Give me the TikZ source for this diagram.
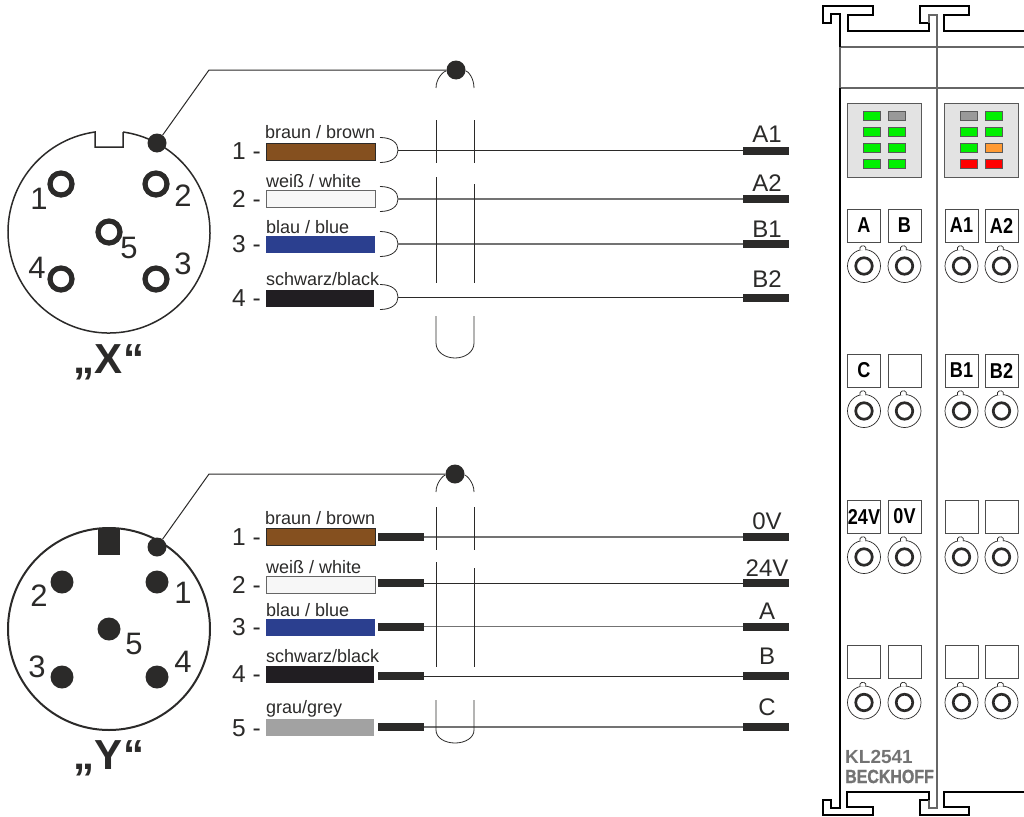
\documentclass[tikz,border=0pt]{standalone}
\usepackage{fontspec}
\setmainfont{Liberation Sans}
\newfontfamily\termfont[FakeStretch=0.84]{Liberation Sans}
\newfontfamily\brandfont[FakeStretch=0.84,FakeBold=1.2]{Liberation Sans}
\usepackage{tikz}
\usetikzlibrary{positioning}
\definecolor{brownWire}{HTML}{85501F}
\definecolor{blueWire}{HTML}{2B3F8F}
\definecolor{blackWire}{HTML}{211E22}
\definecolor{greyWire}{HTML}{A2A2A2}
\definecolor{dark}{HTML}{2B2A29}
\definecolor{ledGreen}{HTML}{00F000}
\definecolor{ledGrey}{HTML}{999999}
\definecolor{ledOrange}{HTML}{FF9A33}
\definecolor{ledRed}{HTML}{FF0000}
\tikzstyle{scheme}=[x=1pt, y=-1pt, line join=miter]
\tikzstyle{swatch}=[rectangle, inner sep=0pt, minimum width=109pt, minimum height=17pt]
\tikzstyle{wname}=[inner sep=0pt, anchor=base west, text=dark, font=\fontsize{18}{18}\selectfont]
\tikzstyle{num}=[inner sep=0pt, anchor=base west, text=dark, font=\fontsize{24.5}{24}\selectfont]
\tikzstyle{pinnum}=[inner sep=0pt, text=dark, font=\fontsize{31}{31}\selectfont]
\tikzstyle{plug}=[inner sep=0pt, text=dark, font=\fontsize{42}{42}\selectfont\bfseries]
\tikzstyle{sig}=[inner sep=0pt, anchor=base, text=dark, font=\fontsize{24}{24}\selectfont]
\tikzstyle{bar}=[rectangle, inner sep=0pt, fill=dark, minimum width=46pt, minimum height=8pt]
\tikzstyle{dot}=[circle, inner sep=0pt, fill=dark, minimum size=19pt]
\tikzstyle{ring}=[circle, inner sep=0pt, draw=dark, line width=5.2pt, minimum size=22pt]
\tikzstyle{pin}=[circle, inner sep=0pt, fill=dark, minimum size=23pt]
\tikzstyle{lead}=[draw=dark, line width=1pt]
\tikzstyle{wire}=[draw=dark, line width=0.8pt]
\tikzstyle{greywire}=[draw=black!55, line width=1.2pt]
\tikzstyle{shield}=[draw=dark, line width=0.8pt]
\tikzstyle{rail}=[draw=black, line width=2pt]
\tikzstyle{inner}=[draw=black!60, line width=1.2pt]
\tikzstyle{panel}=[rectangle, inner sep=0pt, draw=black!65, line width=1pt, fill=black!11, minimum width=74pt, minimum height=74pt]
\tikzstyle{led}=[rectangle, inner sep=0pt, draw=black!65, line width=0.8pt, minimum width=17pt, minimum height=9pt]
\tikzstyle{termbox}=[rectangle, inner sep=0pt, draw=black!70, line width=0.8pt, fill=white, minimum width=33pt, minimum height=33pt, font=\fontsize{21.5}{21}\termfont\bfseries]
\tikzstyle{socket}=[circle, inner sep=0pt, draw=dark, line width=0.7pt, fill=white, minimum size=33pt]
\tikzstyle{socketring}=[circle, inner sep=0pt, draw=dark, line width=2.7pt, minimum size=16.5pt]
\newcommand{\sigX}{767}
\newcommand{\colA}{864}
\newcommand{\colB}{904.5}
\newcommand{\colC}{961.5}
\newcommand{\colD}{1001.5}
\newcommand{\wireLoop}[2]{\draw[shield] (380,#2-12.5) .. controls (392,#2-12.5) and (398,#2-7) .. (#1) .. controls (398,#2+7) and (392,#2+12.5) .. (380,#2+12.5);}
\newcommand{\terminal}[4]{
	\node[termbox] (#1) at (#2,#3) {#4};
	\node[socket] (#1s) at ([yshift=-40.5pt]#1.center) {};
	\draw[shield, line width=0.7pt, fill=white] ([xshift=-4pt,yshift=15.8pt]#1s.center) arc[start angle=205, end angle=-25, radius=3.2pt];
	\node[socketring] (#1r) at (#1s.center) {};
}
\begin{document}
\begin{tikzpicture}[scheme]
	\useasboundingbox (0,0) rectangle (1024,816);
	
	%The plug X
	\draw[draw=dark, line width=1.5pt] (123,132) -- (123,147) -- (95,147) -- (95,132) arc[start angle=97.97, delta angle=344.06, radius=101pt];
	\node[dot] (dotX) at (157,143) {};
	\node[dot] (capX) at (456,70) {};
	\coordinate (bendX) at (209,70);
	\draw[lead] (dotX) -- (bendX) -- (capX);
	\node[ring] (x1) at (61,184) {};
	\node[ring] (x2) at (156,184) {};
	\node[ring] (x5) at (109,232) {};
	\node[ring] (x4) at (61,279) {};
	\node[ring] (x3) at (156,279) {};
	\node[pinnum] (nx1) at (39,199) {1};
	\node[pinnum] (nx2) at (183,196) {2};
	\node[pinnum] (nx5) at (129,248) {5};
	\node[pinnum] (nx4) at (37,268) {4};
	\node[pinnum] (nx3) at (183,264) {3};
	\node[plug] (nameX) at (109,362) {„X“};
	
	%The wires of X
	\node[num] (n1) at (232,159) {1 -};
	\node[num] (n2) at (232,207) {2 -};
	\node[num] (n3) at (232,252) {3 -};
	\node[num] (n4) at (232,306) {4 -};
	\node[wname] (w1) at (265,138) {braun / brown};
	\node[wname] (w2) at (266,187) {weiß / white};
	\node[wname] (w3) at (266,233) {blau / blue};
	\node[wname] (w4) at (266,285) {schwarz/black};
	\node[swatch, draw=dark, line width=0.6pt, fill=brownWire] (s1) at (320.5,151.5) {};
	\node[swatch, draw=black!60, line width=1pt, fill=black!3] (s2) at (320.5,198.5) {};
	\node[swatch, fill=blueWire] (s3) at (320.5,244.5) {};
	\node[swatch, fill=blackWire, minimum width=108pt] (s4) at (320,298.5) {};
	\node[bar] (a1) at (766,151) {};
	\node[bar] (a2) at (766,199) {};
	\node[bar] (b1) at (766,244) {};
	\node[bar] (b2) at (766,298) {};
	\coordinate (l1) at (398,150);
	\coordinate (l2) at (398,199);
	\coordinate (l3) at (398,244);
	\coordinate (l4) at (398,297);
	\wireLoop{l1}{150}
	\wireLoop{l2}{199}
	\wireLoop{l3}{244}
	\wireLoop{l4}{297}
	\draw[wire] (l1) -- (l1-|a1.west);
	\draw[greywire] (l2) -- (a2);
	\draw[greywire] (l3) -- (b1);
	\draw[wire] (l4) -- (l4-|b2.west);
	\node[sig] (la1) at (\sigX,142) {A1};
	\node[sig] (la2) at (\sigX,191) {A2};
	\node[sig] (lb1) at (\sigX,237) {B1};
	\node[sig] (lb2) at (\sigX,287) {B2};
	
	%The shield of X
	\draw[shield] (436,88) .. controls (436,78) and (444,71) .. (capX);
	\draw[shield] (474,88) .. controls (474,78) and (468,71) .. (capX);
	\draw[shield] (436,120) -- (436,163);
	\draw[shield] (474,120) -- (474,163);
	\draw[shield] (436,177) -- (436,283);
	\draw[shield] (474,184) -- (474,283);
	\draw[shield] (436,316) -- (436,343) .. controls (436,352) and (445,358) .. (455,358) .. controls (465,358) and (474,352) .. (474,343) -- (474,316);
	
	%The plug Y
	\node[circle, inner sep=0pt, draw=dark, line width=2pt, minimum size=202pt] (bodyY) at (109,629) {};
	\node[rectangle, inner sep=0pt, fill=dark, minimum width=22pt, minimum height=27pt] (keyY) at (109,541.5) {};
	\node[dot] (dotY) at (157,547) {};
	\node[dot] (capY) at (455,474) {};
	\coordinate (bendY) at (209,474);
	\draw[lead] (dotY) -- (bendY) -- (capY);
	\node[pin] (y2) at (62,582) {};
	\node[pin] (y1) at (157,582) {};
	\node[pin] (y5) at (109,629) {};
	\node[pin] (y3) at (62,677) {};
	\node[pin] (y4) at (157,677) {};
	\node[pinnum] (ny2) at (39,596) {2};
	\node[pinnum] (ny1) at (183,593) {1};
	\node[pinnum] (ny5) at (134,644) {5};
	\node[pinnum] (ny3) at (37,667) {3};
	\node[pinnum] (ny4) at (183,662) {4};
	\node[plug] (nameY) at (109,758) {„Y“};
	
	%The wires of Y
	\node[num] (m1) at (232,545) {1 -};
	\node[num] (m2) at (232,593) {2 -};
	\node[num] (m3) at (232,635) {3 -};
	\node[num] (m4) at (232,682) {4 -};
	\node[num] (m5) at (232,736) {5 -};
	\node[wname] (v1) at (265,524) {braun / brown};
	\node[wname] (v2) at (266,573) {weiß / white};
	\node[wname] (v3) at (266,616) {blau / blue};
	\node[wname] (v4) at (266,662) {schwarz/black};
	\node[wname] (v5) at (266,713) {grau/grey};
	\node[swatch, draw=dark, line width=0.6pt, fill=brownWire] (t1) at (320.5,536.5) {};
	\node[swatch, draw=black!60, line width=1pt, fill=black!3] (t2) at (320.5,584.5) {};
	\node[swatch, fill=blueWire] (t3) at (320.5,627.5) {};
	\node[swatch, fill=blackWire, minimum width=108pt] (t4) at (320,674.5) {};
	\node[swatch, fill=greyWire, minimum width=108pt] (t5) at (320,727.5) {};
	\node[bar] (e1) at (401,537) {};
	\node[bar] (e2) at (401,583) {};
	\node[bar] (e3) at (401,626.5) {};
	\node[bar] (e4) at (401,676) {};
	\node[bar] (e5) at (401,727) {};
	\node[bar] (f1) at (766,537) {};
	\node[bar] (f2) at (766,583) {};
	\node[bar] (f3) at (766,626.5) {};
	\node[bar] (f4) at (766,676) {};
	\node[bar] (f5) at (766,727) {};
	\draw[greywire] (e1) -- (f1);
	\draw[wire] (e2) -- (f2);
	\draw[greywire] (e3) -- (f3);
	\draw[wire] (e4) -- (f4);
	\draw[greywire] (e5) -- (f5);
	\node[sig] (l0v) at (\sigX,529) {0V};
	\node[sig] (l24v) at (\sigX,576) {24V};
	\node[sig] (lA) at (\sigX,619) {A};
	\node[sig] (lB) at (\sigX,664) {B};
	\node[sig] (lC) at (\sigX,715) {C};
	
	%The shield of Y
	\draw[shield] (436,492) .. controls (436,482) and (444,475) .. (capY);
	\draw[shield] (474,492) .. controls (474,482) and (466,475) .. (capY);
	\draw[shield] (436,507) -- (436,550);
	\draw[shield] (474,507) -- (474,550);
	\draw[shield] (436,562) -- (436,667);
	\draw[shield] (474,568) -- (474,667);
	\draw[shield] (436,700) -- (436,730) .. controls (436,738) and (445,743) .. (455,743) .. controls (465,743) and (474,738) .. (474,730) -- (474,700);
	
	%The terminal module
	\draw[inner] (840,47) -- (1024,47);
	\draw[inner] (840,88) -- (1024,88);
	\draw[inner] (840,47) -- (840,88);
	\draw[rail] (840,47) -- (840,14) -- (831,14) -- (831,23) -- (823,23) -- (823,6) -- (873,6) -- (873,15) -- (848,15) -- (848,31) -- (929,31) -- (929,23) -- (920,23) -- (920,6) -- (969,6) -- (969,15) -- (944,15) -- (944,31) -- (1024,31);
	\draw[rail] (840,88) -- (840,808) -- (831,808) -- (831,800) -- (823,800) -- (823,815) -- (873,815) -- (873,807) -- (847,807) -- (847,792) -- (929,792) -- (929,800) -- (920,800) -- (920,815) -- (969,815) -- (969,807) -- (944,807) -- (944,792) -- (1024,792);
	\draw[inner] (929,23) -- (929,15) -- (937,15) -- (937,808) -- (929,808) -- (929,800);
	
	%The led panels
	\node[panel] (panelL) at (884,140) {};
	\node[panel] (panelR) at (981.5,140) {};
	\node[led, fill=ledGreen] (la) at (872,116) {};
	\node[led, fill=ledGrey] (lb) at (897,116) {};
	\node[led, fill=ledGreen] (lc) at (872,132) {};
	\node[led, fill=ledGreen] (ld) at (897,132) {};
	\node[led, fill=ledGreen] (le) at (872,148) {};
	\node[led, fill=ledGreen] (lf) at (897,148) {};
	\node[led, fill=ledGreen] (lg) at (872,164) {};
	\node[led, fill=ledGreen] (lh) at (897,164) {};
	\node[led, fill=ledGrey] (ra) at (969,116) {};
	\node[led, fill=ledGreen] (rb) at (994,116) {};
	\node[led, fill=ledGreen] (rc) at (969,132) {};
	\node[led, fill=ledGreen] (rd) at (994,132) {};
	\node[led, fill=ledGreen] (re) at (969,148) {};
	\node[led, fill=ledOrange] (rf) at (994,148) {};
	\node[led, fill=ledRed] (rg) at (969,164) {};
	\node[led, fill=ledRed] (rh) at (994,164) {};
	
	%The terminals, row by row
	\terminal{ta}{\colA}{225.5}{A}
	\terminal{tb}{\colB}{225.5}{B}
	\terminal{tc}{\colC}{225.5}{A1}
	\terminal{td}{\colD}{225.5}{A2}
	\terminal{te}{\colA}{370.5}{C}
	\terminal{tf}{\colB}{370.5}{}
	\terminal{tg}{\colC}{370.5}{B1}
	\terminal{th}{\colD}{370.5}{B2}
	\terminal{ti}{\colA}{516.5}{24V}
	\terminal{tj}{\colB}{516.5}{0V}
	\terminal{tk}{\colC}{516.5}{}
	\terminal{tl}{\colD}{516.5}{}
	\terminal{tm}{\colA}{662}{}
	\terminal{tn}{\colB}{662}{}
	\terminal{to}{\colC}{662}{}
	\terminal{tp}{\colD}{662}{}
	
	\node[inner sep=0pt, anchor=base west, text=black!55, font=\fontsize{19}{19}\selectfont\bfseries] (type) at (845,763) {KL2541};
	\node[inner sep=0pt, anchor=base west, text=black!55, font=\fontsize{19}{19}\brandfont\bfseries] (brand) at (845,783) {BECKHOFF};
\end{tikzpicture}
\end{document}
